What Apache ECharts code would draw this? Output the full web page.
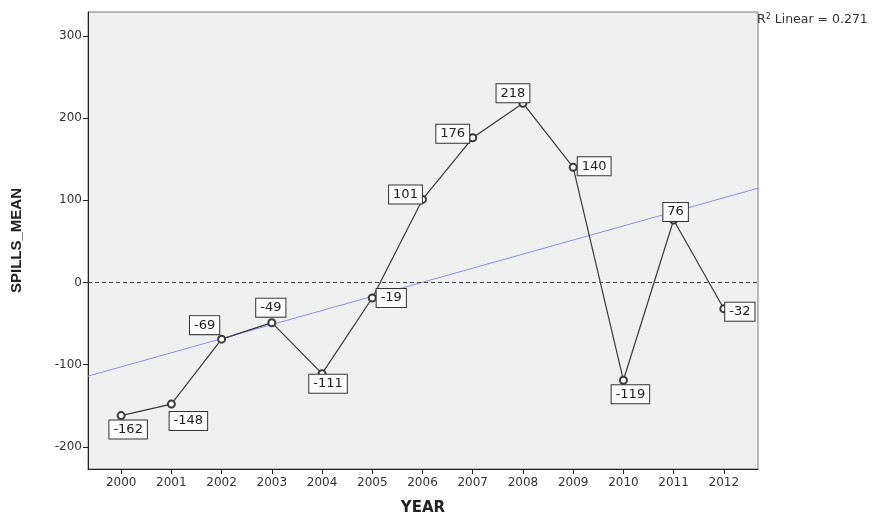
<!DOCTYPE html>
<html>
<head>
<meta charset="utf-8">
<script src="https://cdn.jsdelivr.net/npm/echarts@6/dist/echarts.min.js"></script>
<style>
  html, body { margin: 0; padding: 0; background: #ffffff; }
  #chart { width: 877px; height: 516px; }
</style>
</head>
<body>
<div id="chart"></div>
<script>
// Yearly mean of spills (deviation values)
const years = [2000, 2001, 2002, 2003, 2004, 2005, 2006, 2007, 2008, 2009, 2010, 2011, 2012];
const spillsMean = [-162, -148, -69, -49, -111, -19, 101, 176, 218, 140, -119, 76, -32];
const yTickValues = [-200, -100, 0, 100, 200, 300];

// Pixel offset of each value box relative to its point
const labelOffsets = [
  [7, 14], [17, 17], [-17, -14], [-1, -15], [6, 10], [19, 0], [-17, -5],
  [-20, -4], [-10, -10], [21, -1], [7, 14], [2, -8], [16, 3]
];

const xMin = 1999.34, xMax = 2012.68;
const yMin = -227, yMax = 329;

// Ordinary least squares fit of value on year
const n = years.length;
const mx = years.reduce((s, v) => s + v, 0) / n;
const my = spillsMean.reduce((s, v) => s + v, 0) / n;
let sxy = 0, sxx = 0, syy = 0;
for (let i = 0; i < n; i++) {
  sxy += (years[i] - mx) * (spillsMean[i] - my);
  sxx += (years[i] - mx) ** 2;
  syy += (spillsMean[i] - my) ** 2;
}
const slope = sxy / sxx;
const intercept = my - slope * mx;
const r2 = (sxy * sxy) / (sxx * syy);
const fitLine = [[xMin, intercept + slope * xMin], [xMax, intercept + slope * xMax]];

const points = years.map((y, i) => ({
  value: [y, spillsMean[i]],
  label: { offset: labelOffsets[i] }
}));

const chart = echarts.init(document.getElementById('chart'));
chart.setOption({
  animation: false,
  backgroundColor: '#ffffff',
  grid: {
    left: 88, top: 12, right: 119, bottom: 47,
    containLabel: false, outerBoundsMode: 'none',
    show: true, backgroundColor: '#f0f0f0', borderColor: '#7a7a7a', borderWidth: 1
  },
  xAxis: {
    type: 'value', min: xMin, max: xMax,
    name: 'YEAR', nameLocation: 'middle', nameGap: 32,
    nameTextStyle: { fontFamily: 'DejaVu Sans', fontWeight: 'bold', fontSize: 15, color: '#222' },
    axisLine: { show: true, onZero: false, lineStyle: { color: '#222', width: 1 } },
    axisTick: { show: true, length: 5, customValues: years, lineStyle: { color: '#222' } },
    axisLabel: {
      customValues: years, formatter: v => String(v), margin: 8,
      fontFamily: 'DejaVu Sans', fontSize: 12, color: '#333'
    },
    splitLine: { show: false }
  },
  yAxis: {
    type: 'value', min: yMin, max: yMax,
    name: 'SPILLS_MEAN', nameLocation: 'middle', nameGap: 64, nameRotate: 90,
    nameTextStyle: { fontFamily: 'Liberation Sans', fontWeight: 'bold', fontSize: 15, color: '#222' },
    axisLine: { show: true, onZero: false, lineStyle: { color: '#222', width: 1 } },
    axisTick: { show: true, length: 5, customValues: yTickValues, lineStyle: { color: '#222' } },
    axisLabel: {
      customValues: yTickValues, margin: 6,
      fontFamily: 'DejaVu Sans', fontSize: 12, color: '#333'
    },
    splitLine: { show: false }
  },
  series: [
    {
      type: 'line',
      data: fitLine,
      symbol: 'none',
      silent: true,
      lineStyle: { color: '#8f8fdc', width: 1 },
      z: 2
    },
    {
      type: 'line',
      data: points,
      symbol: 'emptyCircle',
      symbolSize: 7,
      itemStyle: { color: '#3a3a3a', borderColor: '#3a3a3a', borderWidth: 1 },
      lineStyle: { color: '#3a3a3a', width: 1.2 },
      label: {
        show: true, position: 'inside',
        formatter: p => String(p.value[1]),
        fontFamily: 'DejaVu Sans', fontSize: 13, color: '#222',
        backgroundColor: '#fbfbfb', borderColor: '#333', borderWidth: 1,
        padding: [3, 4, 2, 4], align: 'center', verticalAlign: 'middle'
      },
      markLine: {
        silent: true, symbol: 'none',
        label: { show: false },
        lineStyle: { color: '#444', type: [4, 3], width: 1 },
        data: [{ yAxis: 0 }]
      },
      z: 3
    }
  ],
  graphic: [
    {
      type: 'text', left: 757, top: 13,
      style: {
        text: '{r|R}{s|2}{r| Linear = ' + r2.toFixed(3) + '}',
        rich: {
          r: { fontFamily: 'DejaVu Sans', fontSize: 12.5, fill: '#333' },
          s: { fontFamily: 'DejaVu Sans', fontSize: 8, fill: '#333', verticalAlign: 'top', padding: [0, 0, 6, 0] }
        }
      }
    }
  ]
});
</script>
</body>
</html>
